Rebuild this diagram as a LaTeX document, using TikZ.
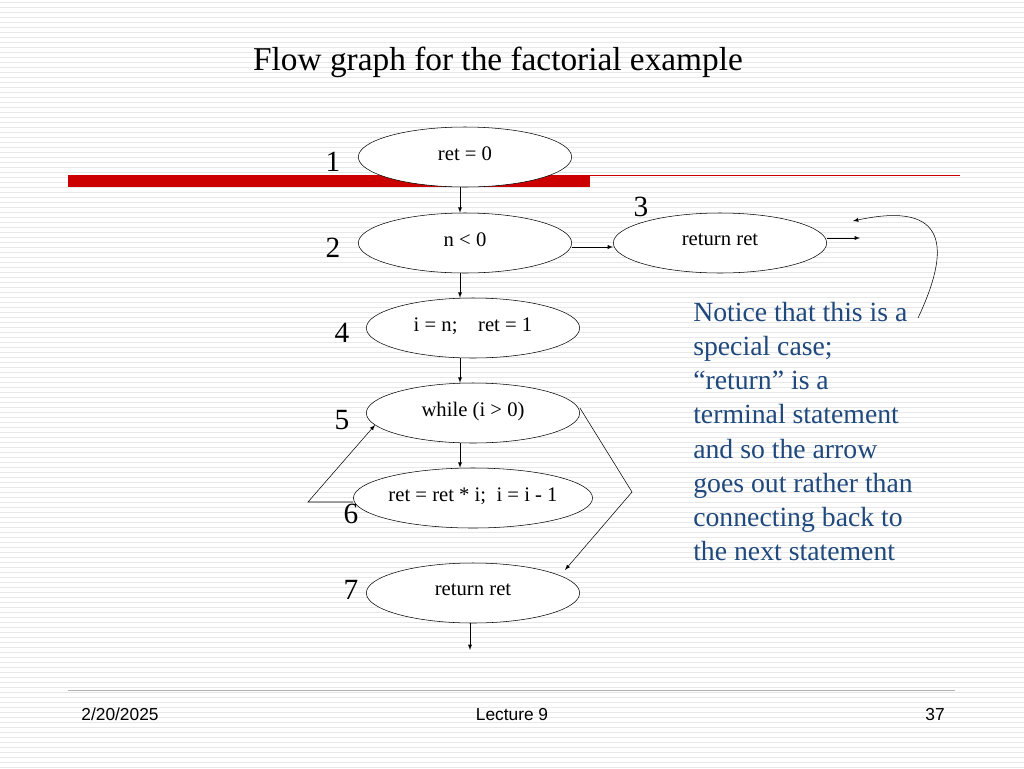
\documentclass[tikz,border=0pt]{standalone}
\usepackage{fontspec}
\setmainfont{Liberation Serif}
\setsansfont{Liberation Sans}
\usetikzlibrary{shapes.geometric}
\definecolor{notecol}{RGB}{31,73,125}
\definecolor{barred}{RGB}{204,0,0}
\begin{document}
\begin{tikzpicture}[x=0.75pt,y=-0.75pt,
  st/.style={ellipse,draw=black,minimum width=160pt,minimum height=45pt,inner sep=0pt,font=\fontsize{15.5}{17}\selectfont,text depth=5pt},
  num/.style={font=\fontsize{22}{24}\selectfont},
  foot/.style={font=\sffamily\fontsize{13}{15}\selectfont,anchor=base},
  arr/.style={-latex}]
\useasboundingbox (0,0) rectangle (1024,768);
\fill[white] (0,0) rectangle (1024,768);
\foreach \y in {2,7,...,768} \draw[gray!18,line width=0.6pt] (0,\y) -- (1024,\y);
\node[font=\fontsize{25}{28}\selectfont] (title) at (498,62) {Flow graph for the factorial example};
\fill[barred] (68,175) rectangle (590,187);
\draw[barred,line width=0.6pt] (590,175) -- (960,175);
% nodes
\node[st,fill=white] (s1) at (465,157) {ret = 0};
\node[st,fill=white] (s2) at (465,243) {n < 0};
\node[st,fill=white] (s3) at (720,243) {return ret};
\node[st,fill=white] (s4) at (473,328) {i = n;\quad ret = 1};
\node[st,fill=white] (s5) at (473,413) {while (i > 0)};
\node[st,fill=white] (s6) at (473,498) {ret = ret * i;\ \ i = i - 1};
\node[st,fill=white] (s7) at (473,593) {return ret};
\node[num] (n1) at (333,162) {1};
\node[num] (n2) at (333,248) {2};
\node[num] (n3) at (641,207) {3};
\node[num] (n4) at (342,333) {4};
\node[num] (n5) at (342,420) {5};
\node[num] (n6) at (351,514) {6};
\node[num] (n7) at (351,590) {7};
\coordinate (out3) at (860,238);
\coordinate (out7) at (470,650);
\coordinate (lp) at (308,502);
\coordinate (rp) at (632,492);
\coordinate (ntip) at (918,318);
\coordinate (ntarget) at (853,221);
% edges
\draw[arr] (s1.south -| 460,0) -- (s2.north -| 460,0);
\draw[arr] (s2.east |- 0,247) -- (s3.west |- 0,247);
\draw[arr] (s3.east |- 0,238) -- (out3);
\draw[arr] (s2.south -| 460,0) -- (s4.north -| 460,0);
\draw[arr] (s4.south -| 460,0) -- (s5.north -| 460,0);
\draw[arr] (s5.south -| 460,0) -- (s6.north -| 460,0);
\draw[arr] (s7.south -| 470,0) -- (out7);
\draw[arr] (s6.west |- 0,502) -- (lp) -- (375,425);
\draw[arr] (s5.east |- 0,408) -- (rp) -- (565,570);
\draw[arr] (ntip) .. controls (950,250) and (950,200) .. (ntarget);
\node[align=left,anchor=north west,text=notecol,font=\fontsize{20.8}{25.6}\selectfont,inner sep=0pt] (note) at (693,302)
  {Notice that this is a\\special case;\\“return” is a\\terminal statement\\and so the arrow\\goes out rather than\\connecting back to\\the next statement};
\draw[gray!60] (68,690) -- (955,690);
\node[foot] (date) at (120,720) {2/20/2025};
\node[foot] (lec) at (512,720) {Lecture 9};
\node[foot] (page) at (935,720) {37};
\end{tikzpicture}
\end{document}
